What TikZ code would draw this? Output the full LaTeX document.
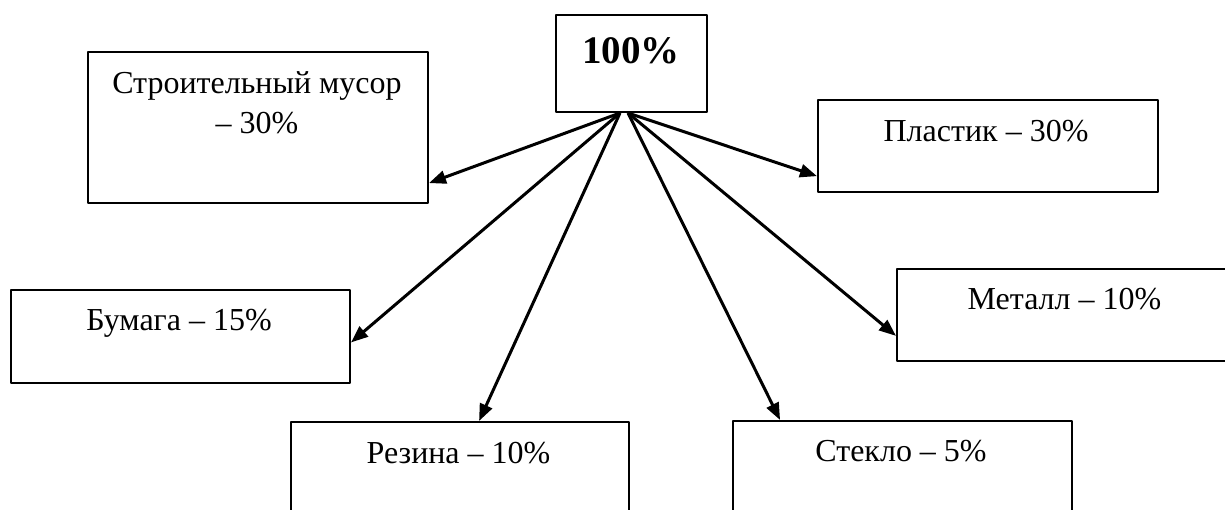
\documentclass[tikz,border=0pt]{standalone}
\usepackage{fontspec}
\setmainfont{Liberation Serif}
\usetikzlibrary{arrows.meta}
\begin{document}
\begin{tikzpicture}[x=1pt, y=-1pt, line join=round, >={Triangle[length=17pt,width=13pt]},
	box/.style={draw, line width=2pt, inner sep=0pt},
	txt/.style={font=\fontsize{32}{40}\selectfont, align=center, inner sep=0pt, anchor=base},
	arr/.style={->, line width=3pt}]
		\clip (0,0) rectangle (1225,509);
		\node[box, minimum width=151pt, minimum height=97pt] (top) at (631.5,63.5) {};
		\node[txt, font=\fontsize{39}{46}\selectfont\bfseries] (topt) at (631,63) {100\%};
		\node[box, minimum width=340pt, minimum height=151pt] (stroy) at (258,127.5) {};
		\node[txt] (stroyt) at (257,133) {Строительный мусор\\– 30\%};
		\node[box, minimum width=340pt, minimum height=92pt] (plast) at (988,146) {};
		\node[txt] (plastt) at (986,141) {Пластик – 30\%};
		\node[box, minimum width=339pt, minimum height=93pt] (bumaga) at (180.5,336.5) {};
		\node[txt] (bumagat) at (179,330) {Бумага – 15\%};
		\node[box, minimum width=338pt, minimum height=92pt] (metall) at (1066,315) {};
		\node[txt] (metallt) at (1064.5,309) {Металл – 10\%};
		\node[box, minimum width=338pt, minimum height=151pt] (rezina) at (460,497.5) {};
		\node[txt] (rezinat) at (458.5,463) {Резина – 10\%};
		\node[box, minimum width=339pt, minimum height=151pt] (steklo) at (902.5,496.5) {};
		\node[txt] (steklot) at (901,461) {Стекло – 5\%};
		\coordinate (hubL) at ([xshift=-11.5pt]top.south);
		\coordinate (hubR) at ([xshift=-3.5pt]top.south);
		\foreach \b/\a in {stroy/-18.7, bumaga/-2.87, rezina/76.6}\draw[arr](hubL)--(\b.\a);
		\foreach \b/\a in {plast/190.66, metall/187.75, steklo/148.4}\draw[arr](hubR)--(\b.\a);
		
	\end{tikzpicture}
\end{document}
